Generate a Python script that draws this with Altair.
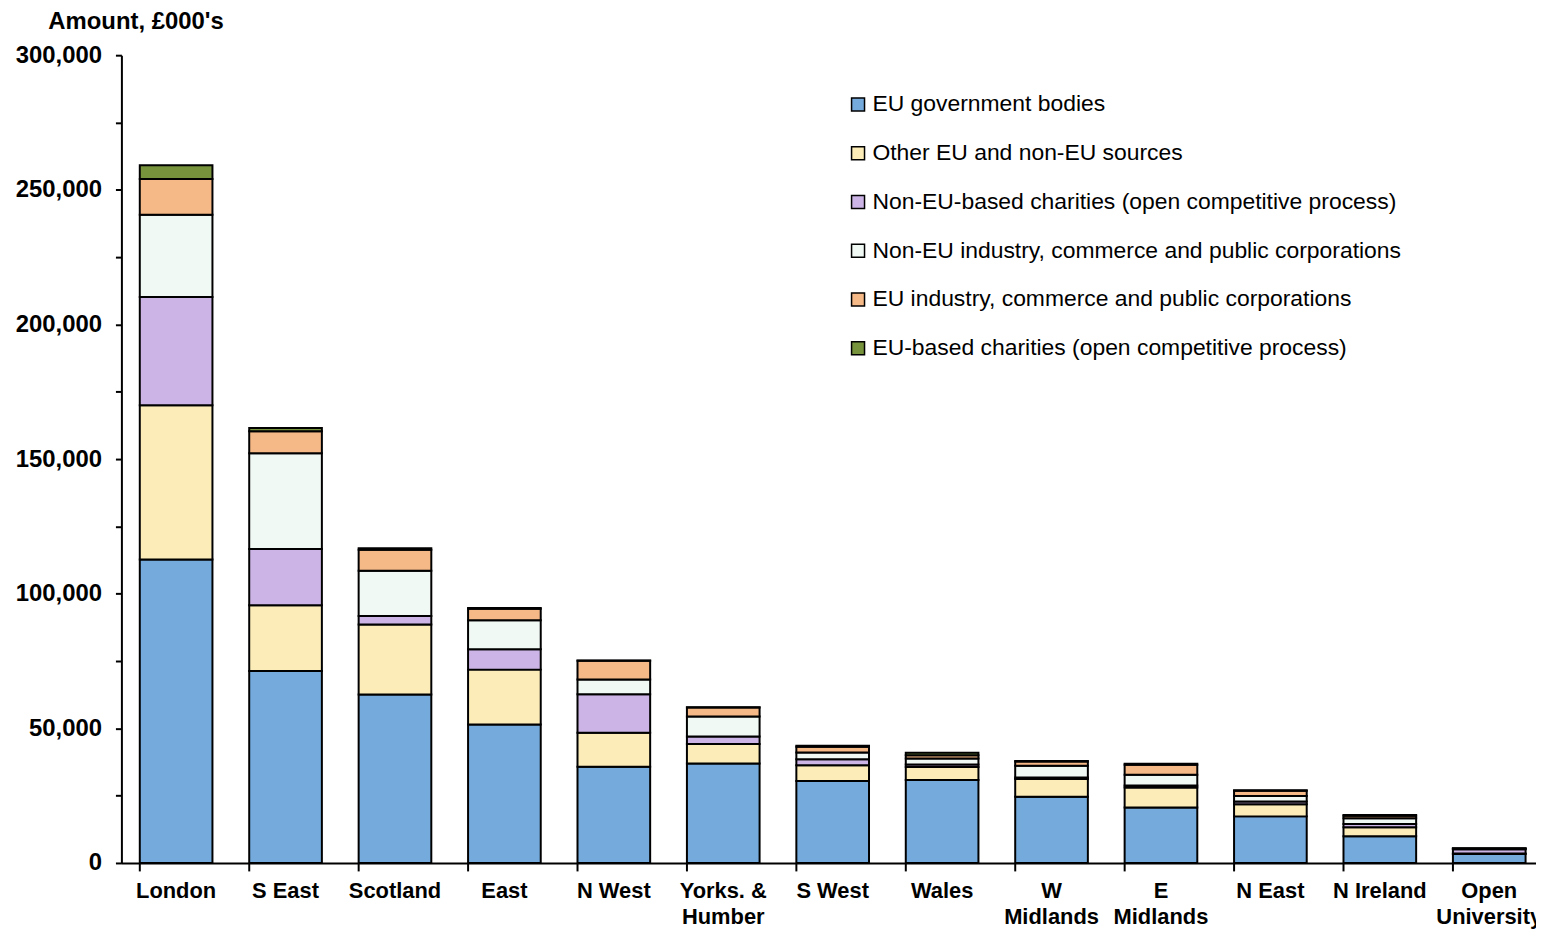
import altair as alt
import pandas as pd

regions = ["London", "S East", "Scotland", "East", "N West", "Yorks. & Humber",
           "S West", "Wales", "W Midlands", "E Midlands", "N East", "N Ireland",
           "Open University"]

series = ["EU government bodies",
          "Other EU and non-EU sources",
          "Non-EU-based charities (open competitive process)",
          "Non-EU industry, commerce and public corporations",
          "EU industry, commerce and public corporations",
          "EU-based charities (open competitive process)"]

eu_gov = [112700, 71300, 62600, 51400, 35700, 36900, 30400, 30800, 24600, 20600, 17300, 9900, 3300]
other_src = [57300, 24400, 26000, 20400, 12700, 7300, 5900, 4800, 6600, 7400, 4500, 3400, 200]
non_eu_char = [40200, 20900, 3100, 7600, 14300, 2800, 2200, 1000, 500, 800, 1000, 1200, 1600]
non_eu_ind = [30500, 35600, 16800, 10700, 5400, 7400, 2500, 2200, 4400, 4000, 2100, 2100, 200]
eu_ind = [13300, 8100, 7800, 4300, 7000, 3300, 2200, 1200, 1600, 3700, 1900, 900, 100]
eu_char = [5100, 1200, 600, 300, 100, 100, 300, 900, 200, 300, 200, 300, 100]

colors = ["#74aadc", "#fcecb8", "#ccb5e6", "#f1f9f4", "#f5b887", "#77933c"]

label_lines = {
    "Yorks. & Humber": ["Yorks. &", "Humber"],
    "W Midlands": ["W", "Midlands"],
    "E Midlands": ["E", "Midlands"],
    "Open University": ["Open", "University"],
}

rows = []
for s_idx, (name, vals) in enumerate(zip(series, [eu_gov, other_src, non_eu_char,
                                                   non_eu_ind, eu_ind, eu_char])):
    for r, v in zip(regions, vals):
        rows.append({"region": r, "source": name, "amount": v, "idx": s_idx})
df = pd.DataFrame(rows)

expr_parts = []
for k, lines in label_lines.items():
    expr_parts.append(f"datum.value == '{k}' ? ['{lines[0]}', '{lines[1]}']")
x_label_expr = " : ".join(expr_parts) + " : datum.value"

font = "Liberation Sans"

chart = alt.Chart(df).mark_bar(stroke="black", strokeWidth=2).encode(
    x=alt.X("region:N", sort=regions,
            scale=alt.Scale(paddingInner=0.336, paddingOuter=0.168),
            axis=alt.Axis(title=None, labelAngle=0, labelExpr=x_label_expr,
                          bandPosition=0, tickSize=8, tickWidth=2, tickColor="black",
                          domainColor="black", domainWidth=2,
                          labelFont=font, labelFontSize=22, labelFontWeight="bold",
                          labelColor="black", labelPadding=10, labelLineHeight=26)),
    y=alt.Y("amount:Q", stack="zero",
            scale=alt.Scale(domain=[0, 300000], nice=False),
            axis=alt.Axis(title="Amount, £000's", titleAngle=0, titleAlign="left",
                          titleBaseline="middle", titleX=-74, titleY=-34,
                          titleFont=font, titleFontSize=24, titleFontWeight="bold",
                          titleColor="black",
                          values=list(range(0, 300001, 25000)),
                          labelExpr="datum.value % 50000 == 0 ? format(datum.value, ',') : ''",
                          grid=False, tickSize=6, tickWidth=2, tickColor="black",
                          domainColor="black", domainWidth=2,
                          labelFont=font, labelFontSize=24, labelFontWeight="bold",
                          labelColor="black", labelPadding=14)),
    color=alt.Color("source:N",
                    scale=alt.Scale(domain=series, range=colors),
                    legend=alt.Legend(title=None, orient="none", legendX=729, legendY=38,
                                      symbolType="square", symbolSize=170,
                                      symbolStrokeColor="black", symbolStrokeWidth=1.5,
                                      labelFont=font, labelFontSize=23, labelColor="black",
                                      labelLimit=800, rowPadding=25, padding=0,
                                      labelOffset=3)),
    order=alt.Order("idx:Q", sort="ascending"),
).properties(
    width=1430, height=812,
    autosize=alt.AutoSizeParams(type="none"),
    padding={"left": 114, "top": 45, "right": -8, "bottom": 72},
).configure_view(stroke=None)

chart.save("out.html", embed_options={"renderer": "svg", "actions": False})
